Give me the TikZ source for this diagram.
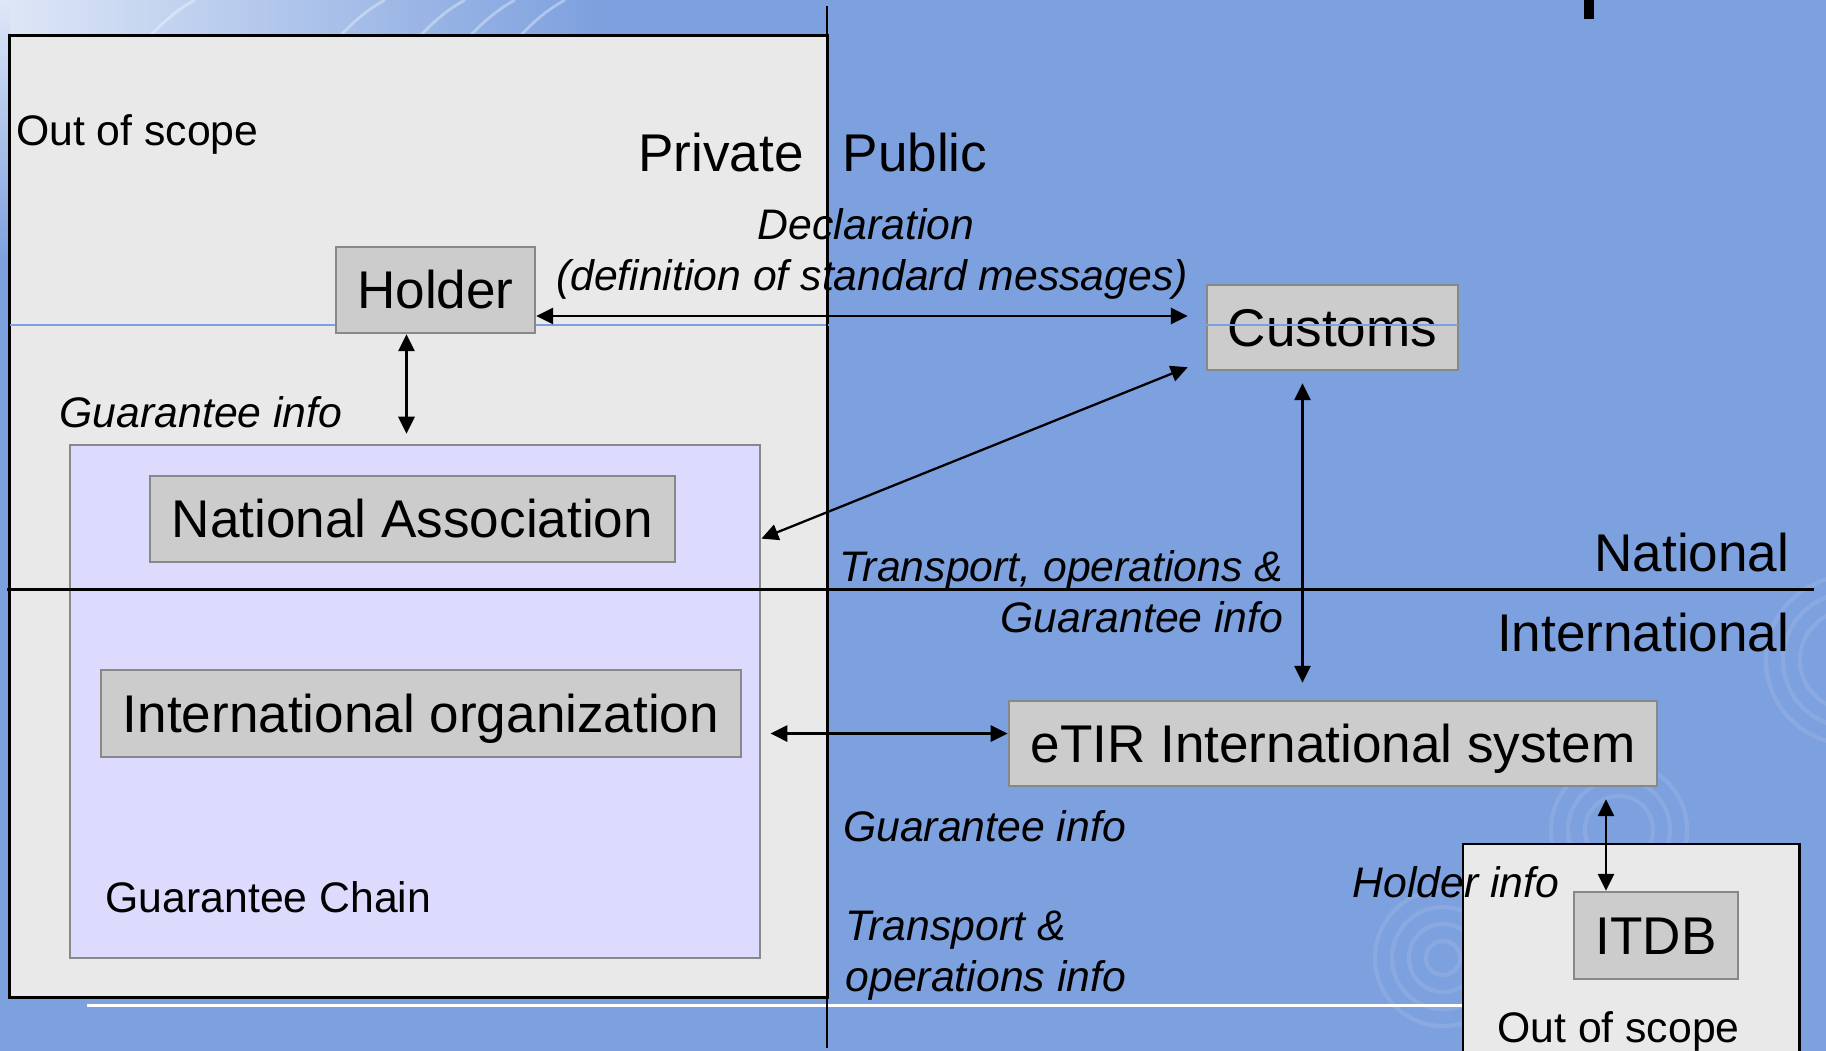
\documentclass[tikz,border=0pt]{standalone}
\usepackage{fontspec}
\setmainfont{Liberation Sans}
\usetikzlibrary{arrows.meta,calc}

\definecolor{slideblue}{RGB}{125,160,222}
\definecolor{scopegray}{RGB}{233,233,233}
\definecolor{actorgray}{RGB}{204,204,204}
\definecolor{actoredge}{RGB}{136,136,136}
\definecolor{chainfill}{RGB}{220,218,253}

\newcommand\actorfont{\fontsize{15.1pt}{18pt}\selectfont}
\newcommand\notefont{\fontsize{12.15pt}{14.5pt}\selectfont}

\begin{document}
\begin{tikzpicture}[x=0.01cm, y=-0.01cm, >={Triangle[length=4.8pt,width=4.6pt]},
    % Define the style for the grey boxes of the actors
    actor/.style={draw=actoredge, fill=actorgray, line width=0.7pt, inner sep=0pt,
        text height=10.8pt, text depth=0pt, font=\actorfont},
    % Define the style for the out of scope areas and the guarantee chain
    scope area/.style={draw=black, fill=scopegray, line width=0.8pt, inner sep=0pt},
    chain area/.style={draw=actoredge, fill=chainfill, line width=0.7pt, inner sep=0pt},
    % Define the style for the captions and the message labels
    caption/.style={inner sep=0pt, font=\actorfont},
    note/.style={inner sep=0pt, font=\notefont\itshape},
    plain note/.style={inner sep=0pt, font=\notefont},
    % Define the style for the message flows and the split lines
    flow/.style={<->, line width=0.65pt},
    divider/.style={line width=0.85pt},
    ripple/.style={white, opacity=0.1, line width=1.2pt}
]

\useasboundingbox (0,0) rectangle (1826,1051);
\clip (0,0) rectangle (1826,1051);

% Slide background with the globe and the ripples
\fill[slideblue] (0,0) rectangle (1826,1051);
\shade[left color=white!75!slideblue, right color=slideblue] (0,0) rectangle (600,36);
\shade[top color=white!75!slideblue, bottom color=slideblue] (0,0) rectangle (10,260);
\foreach \dx in {150,340,420,470,520}
    \draw[white, opacity=0.35, line width=0.8pt] (\dx,36) .. controls (\dx+15,20) and (\dx+30,8) .. (\dx+45,0);
\foreach \r in {0.17,0.34,0.51,0.68}
    \draw[ripple] (1443,958) circle[radius=\r cm];
\foreach \r in {0.34,0.51,0.68}
    \draw[ripple] (1619,830) circle[radius=\r cm];
\foreach \r in {0.5,0.67,0.84}
    \draw[ripple] (1850,660) circle[radius=\r cm];
\draw[white, line width=0.85pt] (87,1005) -- (1463,1005);
\fill (1584,0) rectangle (1594,19);

% Out of scope areas and the guarantee chain
\node[scope area, minimum width=8.17cm, minimum height=9.61cm] (oos-left) at (418.5,516.5) {};
\node[chain area, minimum width=6.90cm, minimum height=5.13cm] (chain) at (415,701.5) {};
\node[scope area, minimum width=3.36cm, minimum height=2.40cm] (oos-right) at (1631,964) {};

% Actors
\node[actor, minimum width=2.51cm, minimum height=0.85cm] (customs) at (1332.5,327.5) {Customs};
\draw[slideblue, line width=0.3pt] (10,325) -- (1458,325);
\node[actor, minimum width=1.99cm, minimum height=0.86cm] (holder) at (435.5,290) {Holder};
\node[actor, minimum width=5.25cm, minimum height=0.86cm] (natassoc) at (412.5,519) {National Association};
\node[actor, minimum width=6.40cm, minimum height=0.87cm] (intorg) at (421,713.5) {International organization};
\node[actor, minimum width=6.48cm, minimum height=0.85cm] (etir) at (1333,743.5) {eTIR International system};
\node[actor, minimum width=1.64cm, minimum height=0.87cm] (itdb) at (1656,935.5) {ITDB};

% Private / public and national / international split
\draw[divider] (827,6) -- (827,1048);
\draw[divider] (7,589) -- (1814,589);

% Message flows
\draw[flow] ($(holder.east)+(0,26)$) -- ($(customs.west |- holder.east)+(-18,26)$);
\draw[flow] ($(holder.south)+(-29,0)$) -- ($(chain.north -| holder.south)+(-29,-10)$);
\draw[flow] ($(chain.north east)+(0,95)$) -- ($(customs.south west)+(-18,-4)$);
\draw[flow] ($(customs.south)+(-30,12)$) -- ($(etir.north -| customs.south)+(-30,-17)$);
\draw[flow] ($(chain.east |- etir.west)+(9,-10)$) -- ($(etir.west)+(0,-10)$);
\draw[flow] ($(etir.south -| itdb.north)+(-50,12)$) -- ($(itdb.north)+(-50,0)$);

% Captions and labels
\node[plain note, anchor=base west] (oos-left-title) at (15.5,145) {Out of scope};
\node[caption, anchor=base] (private) at (721,171) {Private};
\node[caption, anchor=base] (public) at (915,171) {Public};
\node[note, anchor=base] (decl-1) at (866,239) {Declaration};
\node[note, anchor=base] (decl-2) at (872,290) {(definition of standard messages)};
\node[note, anchor=base] (gtee-1) at (201,427) {Guarantee info};
\node[note, anchor=base east] (trans-1) at (1284,581) {Transport, operations \&};
\node[note, anchor=base east] (trans-2) at (1284,632) {Guarantee info};
\node[caption, anchor=base east] (national) at (1790,571) {National};
\node[caption, anchor=base east] (international) at (1790,651) {International};
\node[note, anchor=base] (gtee-2) at (984.5,841) {Guarantee info};
\node[note, anchor=base west] (trans-3) at (845,940) {Transport \&};
\node[note, anchor=base west] (trans-4) at (845,991) {operations info};
\node[note, anchor=base] (holder-info) at (1456,897) {Holder info};
\node[plain note, anchor=base] (oos-right-title) at (1618.5,1042) {Out of scope};
\node[plain note, anchor=base west] (chain-title) at (105,912) {Guarantee Chain};

\end{tikzpicture}
\end{document}
